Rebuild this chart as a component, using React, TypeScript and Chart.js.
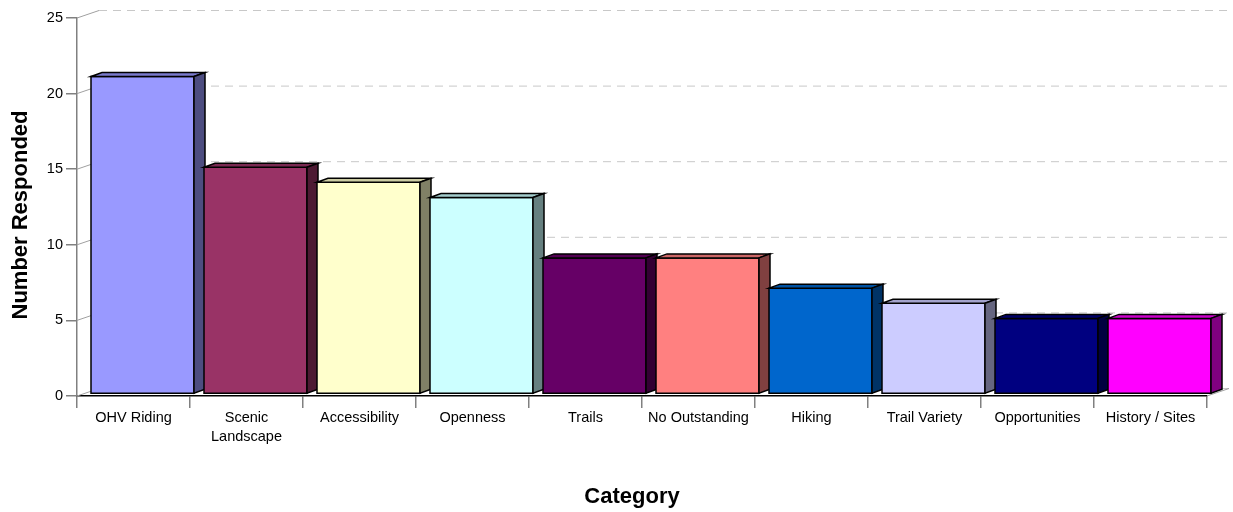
import { useEffect, useRef } from 'react';
import { Chart, registerables } from 'chart.js';

Chart.register(...registerables);

const categories: (string | string[])[] = [
  'OHV Riding',
  ['Scenic', 'Landscape'],
  'Accessibility',
  'Openness',
  'Trails',
  'No Outstanding',
  'Hiking',
  'Trail Variety',
  'Opportunities',
  'History / Sites',
];
const responses = [21, 15, 14, 13, 9, 9, 7, 6, 5, 5];
const faceColors = [
  '#9999FF', '#993366', '#FFFFCC', '#CCFFFF', '#660066',
  '#FF8080', '#0066CC', '#CCCCFF', '#000080', '#FF00FF',
];
const yTicks = [0, 5, 10, 15, 20, 25];
const xTitle = 'Category';
const yTitle = 'Number Responded';

const FONT = '"Liberation Sans", Arial, sans-serif';

// depth of each bar and of the back wall
const BAR_DX = 11;
const BAR_DY = 4;
const BAR_SHIFT_X = 9;
const BAR_SHIFT_Y = 2;
const WALL_DX = 22;
const WALL_DY = 7.5;

function shade(hex: string, f: number): string {
  const n = parseInt(hex.slice(1), 16);
  const r = Math.round(((n >> 16) & 255) * f);
  const g = Math.round(((n >> 8) & 255) * f);
  const b = Math.round((n & 255) * f);
  return `rgb(${r},${g},${b})`;
}

const wallPlugin = {
  id: 'wall3d',
  beforeDatasetsDraw(chart: any) {
    const { ctx, chartArea, scales } = chart;
    const y = scales.y;
    const { left, right } = chartArea;
    ctx.save();
    ctx.lineWidth = 1;
    yTicks.forEach((v) => {
      const py = y.getPixelForValue(v);
      ctx.setLineDash([]);
      ctx.strokeStyle = '#a0a0a0';
      ctx.beginPath();
      ctx.moveTo(left, py);
      ctx.lineTo(left + WALL_DX, py - WALL_DY);
      ctx.stroke();
      ctx.strokeStyle = '#c8c8c8';
      ctx.setLineDash(v === 0 ? [] : [8, 6]);
      ctx.beginPath();
      ctx.moveTo(left + WALL_DX, py - WALL_DY);
      ctx.lineTo(right + WALL_DX, py - WALL_DY);
      ctx.stroke();
    });
    // floor right edge
    const base = y.getPixelForValue(0);
    ctx.setLineDash([]);
    ctx.strokeStyle = '#a0a0a0';
    ctx.beginPath();
    ctx.moveTo(right, base);
    ctx.lineTo(right + WALL_DX, base - WALL_DY);
    ctx.stroke();
    ctx.restore();
  },
  afterDatasetsDraw(chart: any) {
    const { ctx } = chart;
    const meta = chart.getDatasetMeta(0);
    ctx.save();
    ctx.lineWidth = 1.5;
    ctx.strokeStyle = '#000';
    ctx.lineJoin = 'miter';
    meta.data.forEach((el: any, i: number) => {
      const { x, y, base, width } = el.getProps(['x', 'y', 'base', 'width'], true);
      const fl = x - width / 2 + BAR_SHIFT_X;
      const fr = x + width / 2 + BAR_SHIFT_X;
      const ft = y - BAR_SHIFT_Y;
      const fb = base - BAR_SHIFT_Y;
      const c = faceColors[i];
      // front
      ctx.fillStyle = c;
      ctx.beginPath();
      ctx.rect(fl, ft, fr - fl, fb - ft);
      ctx.fill();
      ctx.stroke();
      // top
      ctx.fillStyle = shade(c, 0.8);
      ctx.beginPath();
      ctx.moveTo(fl, ft);
      ctx.lineTo(fl + BAR_DX, ft - BAR_DY);
      ctx.lineTo(fr + BAR_DX, ft - BAR_DY);
      ctx.lineTo(fr, ft);
      ctx.closePath();
      ctx.fill();
      ctx.stroke();
      // side
      ctx.fillStyle = shade(c, 0.5);
      ctx.beginPath();
      ctx.moveTo(fr, ft);
      ctx.lineTo(fr + BAR_DX, ft - BAR_DY);
      ctx.lineTo(fr + BAR_DX, fb - BAR_DY);
      ctx.lineTo(fr, fb);
      ctx.closePath();
      ctx.fill();
      ctx.stroke();
    });
    ctx.restore();
  },
  afterDraw(chart: any) {
    // axis titles
    const { ctx } = chart;
    ctx.save();
    ctx.fillStyle = '#000';
    ctx.font = `bold 22px ${FONT}`;
    ctx.textAlign = 'center';
    ctx.textBaseline = 'middle';
    ctx.fillText(xTitle, 632, 497);
    ctx.translate(21, 215);
    ctx.rotate(-Math.PI / 2);
    ctx.fillText(yTitle, 0, 0);
    ctx.restore();
  },
};

export default function App() {
  const ref = useRef<HTMLCanvasElement | null>(null);

  useEffect(() => {
    if (!ref.current) return;
    const chart = new Chart(ref.current, {
      type: 'bar',
      data: {
        labels: categories,
        datasets: [
          {
            label: yTitle,
            data: responses,
            backgroundColor: 'rgba(0,0,0,0)',
            borderWidth: 0,
            categoryPercentage: 1,
            barPercentage: 103 / 113,
          },
        ],
      },
      options: {
        responsive: false,
        animation: false,
        layout: { padding: { top: 18, right: 26, left: 0, bottom: 0 } },
        plugins: { legend: { display: false }, tooltip: { enabled: false } },
        scales: {
          x: {
            offset: true,
            grid: {
              offset: true,
              drawOnChartArea: false,
              drawTicks: true,
              tickLength: 12,
              color: '#808080',
              lineWidth: 1.5,
            },
            border: { color: '#000', width: 1.5 },
            ticks: {
              autoSkip: false,
              maxRotation: 0,
              padding: 1,
              color: '#000',
              font: { family: FONT, size: 14.5, lineHeight: 1.3 },
            },
            title: { display: false },
            afterFit: (s: any) => {
              s.height = 116;
            },
          },
          y: {
            min: 0,
            max: 25,
            grid: {
              drawOnChartArea: false,
              drawTicks: true,
              tickLength: 11,
              color: '#808080',
              lineWidth: 1.5,
            },
            border: { color: '#808080', width: 1.5 },
            ticks: {
              stepSize: 5,
              padding: 3,
              color: '#000',
              font: { family: FONT, size: 14.5 },
            },
            title: { display: false },
            afterFit: (s: any) => {
              s.width = 77;
            },
          },
        },
      },
      plugins: [wallPlugin],
    });
    return () => chart.destroy();
  }, []);

  return (
    <div style={{ position: 'absolute', left: 0, top: 0, width: 1233, height: 512, background: '#fff' }}>
      <canvas ref={ref} width={1233} height={512} style={{ display: 'block' }} />
    </div>
  );
}
